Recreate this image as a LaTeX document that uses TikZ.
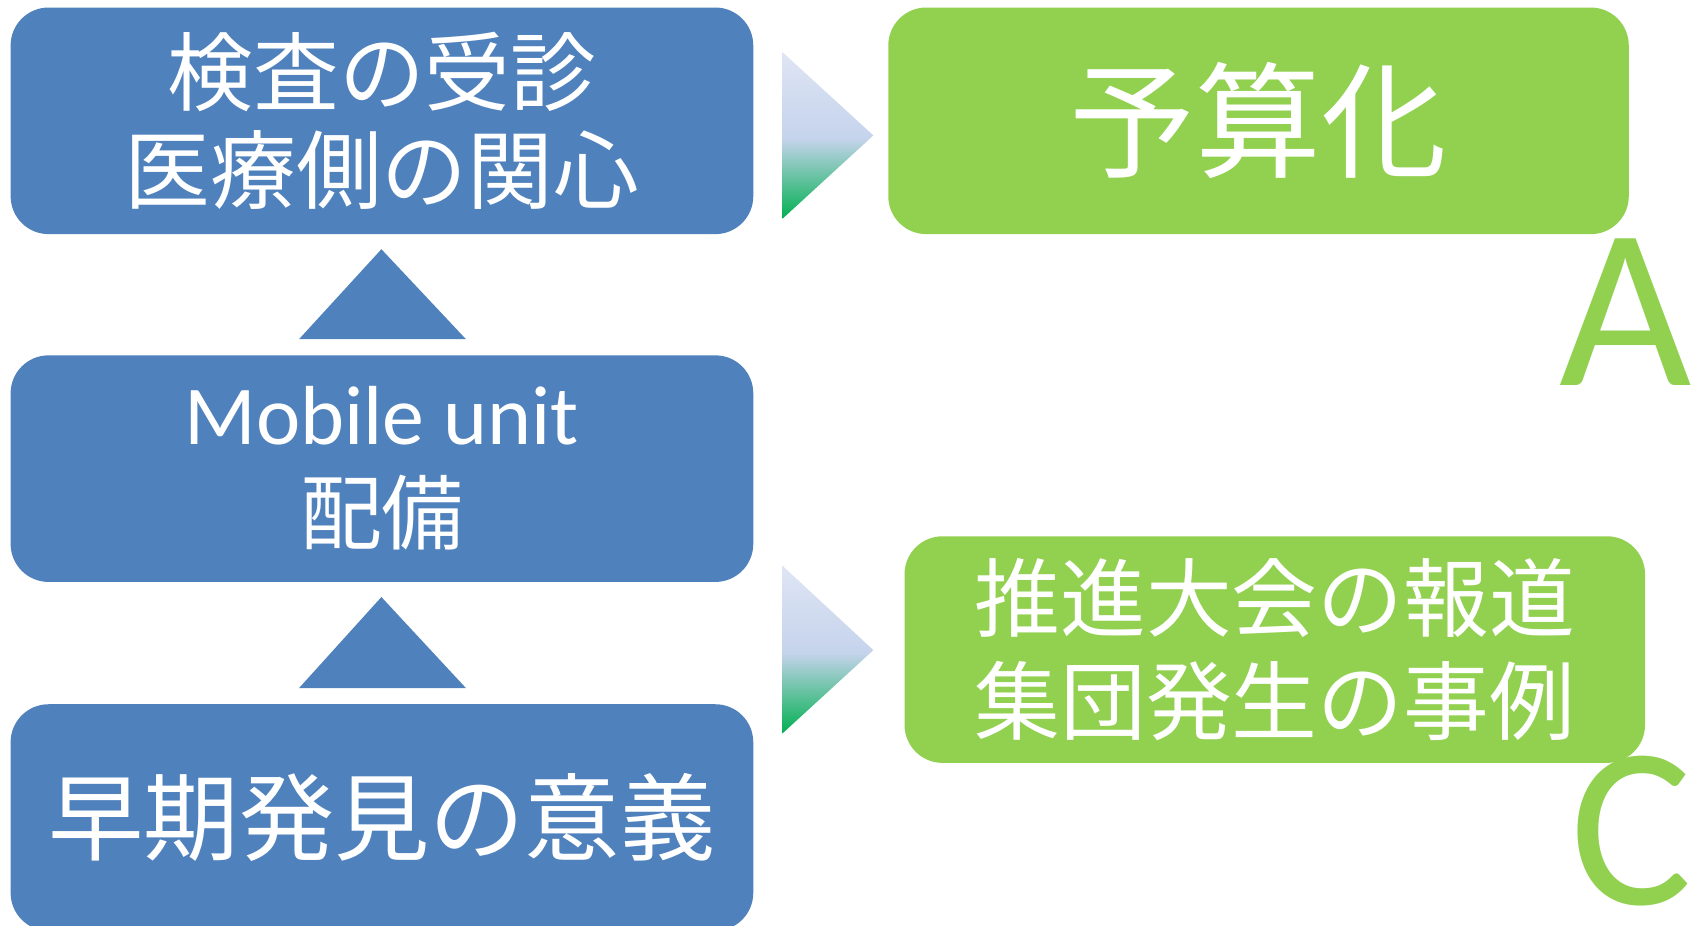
\documentclass[tikz,border=0pt]{standalone}
\usepackage{fontspec}
\setmainfont{Noto Sans CJK JP}
\newfontfamily\calib{Carlito}
\definecolor{boxblue}{HTML}{4F81BD}
\definecolor{boxgreen}{HTML}{92D050}
\definecolor{gtop}{HTML}{DFE5F4}
\definecolor{gmid}{HTML}{C5D3EC}
\definecolor{gbot}{HTML}{00B050}
\pgfdeclareverticalshading{gradtrishade}{100bp}{color(0bp)=(gbot); color(25bp)=(gbot); color(49bp)=(gmid); color(75bp)=(gtop); color(100bp)=(gtop)}
\begin{document}
\begin{tikzpicture}[x=0.01cm,y=-0.01cm,
  bluebox/.style={fill=boxblue, draw=none, rounded corners=0.35cm, minimum width=6.85cm, minimum height=2.09cm, text=white, align=center, inner sep=0pt},
  greenbox/.style={fill=boxgreen, draw=none, rounded corners=0.35cm, minimum width=6.83cm, minimum height=2.09cm, text=white, align=center, inner sep=0pt},
  uptri/.style={fill=boxblue},
  gradtri/.style={shading=gradtrishade},
  bigletter/.style={text=boxgreen, font=\calib\fontsize{60pt}{60pt}\selectfont, inner sep=0pt}
]
\clip (0,0) rectangle (1568,854);
\fill[white] (0,0) rectangle (1568,854);

\node[bluebox, font=\fontsize{22.5pt}{25.6pt}\selectfont] (b1) at (352.5,111.5) {検査の受診\\医療側の関心};
\node[bluebox, font=\fontsize{22pt}{26pt}\selectfont] (b2) at (352.5,432.5) {{\calib Mobile unit}\\{\fontsize{21.5pt}{26pt}\selectfont 配備}};
\node[bluebox, font=\fontsize{25pt}{28pt}\selectfont] (b3) at (352.5,754.5) {早期発見の意義};

\node[greenbox, font=\fontsize{33pt}{36pt}\selectfont] (g1) at (1161.5,111.5) {予算化};
\node[greenbox, font=\fontsize{22.5pt}{27pt}\selectfont] (g2) at (1176.5,599.5) {推進大会の報道\\集団発生の事例};

\fill[uptri] (352,230) -- (430,313) -- (276,313) -- cycle;
\fill[uptri] (352,551) -- (430,635) -- (276,635) -- cycle;

\shade[gradtri] (722,48) -- (806,125) -- (722,202) -- cycle;
\shade[gradtri] (722,522) -- (806,600) -- (722,677) -- cycle;

\node[bigletter] (A) at (1500,288.5) {A};
\node[bigletter] (C) at (1506,767) {C};
\end{tikzpicture}
\end{document}
